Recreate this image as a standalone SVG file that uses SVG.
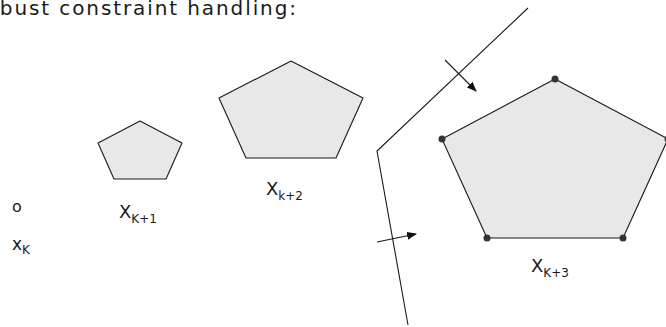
<svg xmlns="http://www.w3.org/2000/svg" width="666" height="327" viewBox="0 0 666 327">
<style>
.poly{fill:#e8e8e8;stroke:#1a1a1a;stroke-width:1.1;stroke-linejoin:round}
.ln{fill:none;stroke:#1a1a1a;stroke-width:1.1}
.dot{fill:#333}
text{font-family:"DejaVu Sans",sans-serif;fill:#1a1a1a}
.big{font-size:18px}
.sub{font-size:12px}
</style>
<defs>
<marker id="ah" markerWidth="10" markerHeight="8" refX="9" refY="4" orient="auto" markerUnits="userSpaceOnUse">
<path d="M0,0 L10,4 L0,8 z" fill="#111"/>
</marker>
</defs>
<text id="title" x="-24" y="15" style="font-size:20px;letter-spacing:1.9px">robust constraint handling:</text>
<g id="xk">
<text x="12" y="212" style="font-size:16px">o</text>
<text x="12" y="250" style="font-size:17px">x<tspan class="sub" dy="4">K</tspan></text>
</g>
<g id="p1">
<polygon class="poly" points="140,121 182,143 166,179 114,179 98,143"/>
<text class="big" x="119" y="218">X<tspan class="sub" dy="5">K+1</tspan></text>
</g>
<g id="p2">
<polygon class="poly" points="291,61 363,98 336,158 246,158 219,98"/>
<text class="big" x="266" y="195">X<tspan class="sub" dy="5">k+2</tspan></text>
</g>
<g id="p3">
<polygon class="poly" points="555,79 668,139 623,238 487,238 442,139"/>
<circle class="dot" cx="555" cy="79" r="3.5"/>
<circle class="dot" cx="442" cy="139" r="3.5"/>
<circle class="dot" cx="668" cy="139" r="3.5"/>
<circle class="dot" cx="487" cy="238" r="3.5"/>
<circle class="dot" cx="623" cy="238" r="3.5"/>
<text class="big" x="531" y="272">X<tspan class="sub" dy="5">K+3</tspan></text>
</g>
<g id="connectors">
<polyline class="ln" points="528,8 377,151 408,325"/>
<line class="ln" x1="445" y1="60" x2="476" y2="91" marker-end="url(#ah)"/>
<line class="ln" x1="377" y1="242" x2="416" y2="234" marker-end="url(#ah)"/>
</g>
</svg>
